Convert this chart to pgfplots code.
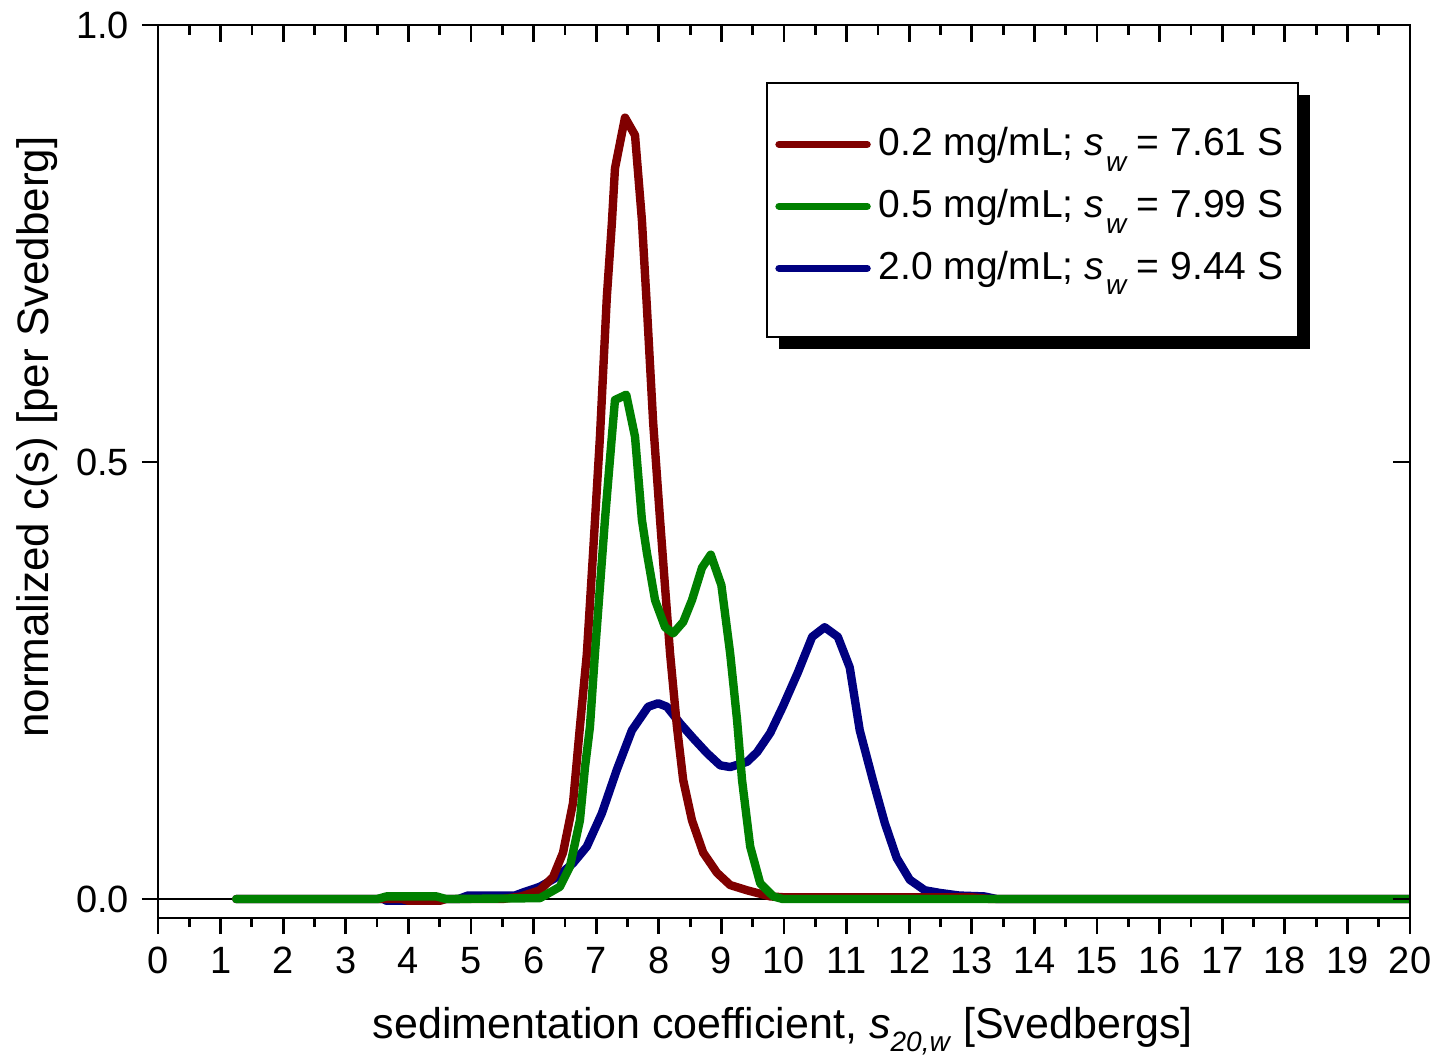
\documentclass[border=0pt]{standalone}
\usepackage{pgfplots}
\pgfplotsset{compat=1.18}
\usepackage{fontspec}
\setmainfont{Liberation Sans}
\definecolor{cred}{RGB}{128,0,0}
\definecolor{cgreen}{RGB}{0,128,0}
\definecolor{cblue}{RGB}{0,0,128}
\newcommand{\sub}[1]{\raisebox{-0.6ex}{\fontsize{14}{14}\selectfont\textit{#1}}}
\newcommand{\lsub}[1]{\kern1pt\raisebox{-0.75ex}{\fontsize{14}{14}\selectfont\textit{#1}}\kern4.5pt}
\begin{document}
\fontsize{19}{23}\selectfont
\begin{tikzpicture}
\begin{axis}[
  name=main,
  scale only axis,
  width=626pt, height=446.5pt,
  xmin=0, xmax=20, ymin=-0.0217, ymax=1.0,
  xtick distance=1, minor x tick num=1,
  ytick={0,0.5,1.0},
  xtick pos=left, ytick pos=left,
  tick align=outside,
  major tick length=8pt, minor tick length=4.5pt,
  axis line style={line width=1.4pt},
  every tick/.style={line width=1.4pt, black},
  every minor tick/.style={line width=1.4pt, black},
  /pgf/number format/assume math mode=true,
  tick label style={font=\fontsize{19}{23}\selectfont},
  yticklabel style={/pgf/number format/fixed, /pgf/number format/fixed zerofill, /pgf/number format/precision=1},
  xlabel={sedimentation coefficient, \textit{s}\sub{20,w} [Svedbergs]},
  ylabel={normalized c(s) [per Svedberg]},
  xlabel style={font=\fontsize{21.5}{25}\selectfont, at={(axis description cs:0.499,-0.1344)}, anchor=base},
  ylabel style={font=\fontsize{22}{25}\selectfont, at={(axis description cs:-0.0966,0.5386)}, anchor=center},
  legend cell align=left,
  legend style={at={(axis description cs:0.4864,0.9351)}, anchor=north west,
    draw=none, fill=none,
    inner xsep=4pt, inner ysep=20pt, row sep=10pt,
    font=\fontsize{19.5}{23}\selectfont,
    nodes={inner sep=2pt}},
  legend image code/.code={\draw[#1, line width=3.7pt, line cap=round] (0pt,0pt) -- (44pt,0pt);},
]
\coordinate (SW) at (rel axis cs:0,0);
\coordinate (NE) at (rel axis cs:1,1);
\fill[black] ([xshift=6pt,yshift=-6pt]axis description cs:0.4864,0.9351) rectangle ([xshift=6pt,yshift=-6pt]axis description cs:0.9105,0.6506);
\filldraw[fill=white, draw=black, line width=1pt] (axis description cs:0.4864,0.9351) rectangle (axis description cs:0.9105,0.6506);
\addlegendimage{cred}
\addlegendentry{\hspace{2pt}0.2 mg/mL; \textit{s}\lsub{w}= 7.61 S}
\addlegendimage{cgreen}
\addlegendentry{\hspace{2pt}0.5 mg/mL; \textit{s}\lsub{w}= 7.99 S}
\addlegendimage{cblue}
\addlegendentry{\hspace{2pt}2.0 mg/mL; \textit{s}\lsub{w}= 9.44 S}

\addplot[black, line width=1.3pt, forget plot] coordinates {(0,0) (20,0)};

\addplot[cblue, line width=4.2pt, line join=round, line cap=round, forget plot] coordinates {
(1.25,0) (3.6,0) (3.65,-0.002) (4.1,-0.002) (4.2,0) (4.8,0) (4.95,0.004) (5.7,0.004) (5.85,0.008) (6.1,0.014) (6.37,0.025) (6.63,0.041) (6.85,0.06) (7.09,0.098) (7.33,0.148) (7.57,0.193) (7.83,0.22) (7.99,0.224) (8.13,0.22) (8.34,0.201) (8.55,0.184) (8.77,0.167) (8.98,0.153) (9.14,0.151) (9.41,0.157) (9.57,0.168) (9.78,0.19) (9.98,0.22) (10.22,0.259) (10.45,0.30) (10.65,0.311) (10.86,0.30) (11.05,0.265) (11.21,0.193) (11.42,0.136) (11.61,0.087) (11.80,0.047) (12.01,0.022) (12.25,0.01) (12.49,0.007) (12.8,0.004) (13.2,0.003) (13.4,0) (20,0)
};
\addplot[cred, line width=4.2pt, line join=round, line cap=round, forget plot] coordinates {
(1.25,0) (3.9,0) (4.0,-0.002) (4.5,-0.002) (4.6,0) (5.5,0) (5.8,0.003) (6.1,0.01) (6.31,0.025) (6.47,0.053) (6.63,0.11) (6.74,0.197) (6.85,0.28) (6.95,0.396) (7.06,0.529) (7.17,0.689) (7.25,0.773) (7.30,0.836) (7.46,0.894) (7.62,0.874) (7.73,0.777) (7.81,0.677) (7.91,0.545) (8.02,0.434) (8.10,0.357) (8.18,0.281) (8.29,0.197) (8.39,0.136) (8.53,0.09) (8.71,0.053) (8.93,0.03) (9.14,0.016) (9.41,0.01) (9.78,0.003) (10,0.002) (13,0.002) (13.3,0) (20,0)
};
\addplot[cgreen, line width=4.2pt, line join=round, line cap=round, forget plot] coordinates {
(1.25,0) (3.5,0) (3.65,0.003) (4.45,0.003) (4.6,0) (6.1,0.001) (6.42,0.014) (6.58,0.037) (6.74,0.09) (6.82,0.15) (6.90,0.197) (6.98,0.281) (7.14,0.434) (7.25,0.529) (7.30,0.571) (7.48,0.577) (7.62,0.529) (7.73,0.434) (7.81,0.396) (7.94,0.342) (8.10,0.311) (8.23,0.304) (8.39,0.317) (8.53,0.342) (8.69,0.379) (8.83,0.394) (9.00,0.359) (9.14,0.281) (9.25,0.205) (9.33,0.136) (9.46,0.06) (9.62,0.018) (9.83,0.003) (9.98,0) (20,0)
};
\end{axis}
\begin{axis}[
  scale only axis,
  width=626pt, height=446.5pt,
  xmin=0, xmax=20, ymin=-0.0217, ymax=1.0,
  xtick distance=1, minor x tick num=1,
  ytick={0,0.5,1.0},
  xtick pos=right, ytick pos=right,
  tick align=inside,
  major tick length=8.5pt, minor tick length=5pt,
  axis line style={line width=1.4pt},
  every tick/.style={line width=1.4pt, black},
  every minor tick/.style={line width=1.4pt, black},
  xticklabels={}, yticklabels={},
]
\end{axis}
\pgfresetboundingbox
\path[use as bounding box] ([shift={(-79pt,-69pt)}]SW) rectangle ([shift={(15.5pt,12.5pt)}]NE);
\end{tikzpicture}
\end{document}
